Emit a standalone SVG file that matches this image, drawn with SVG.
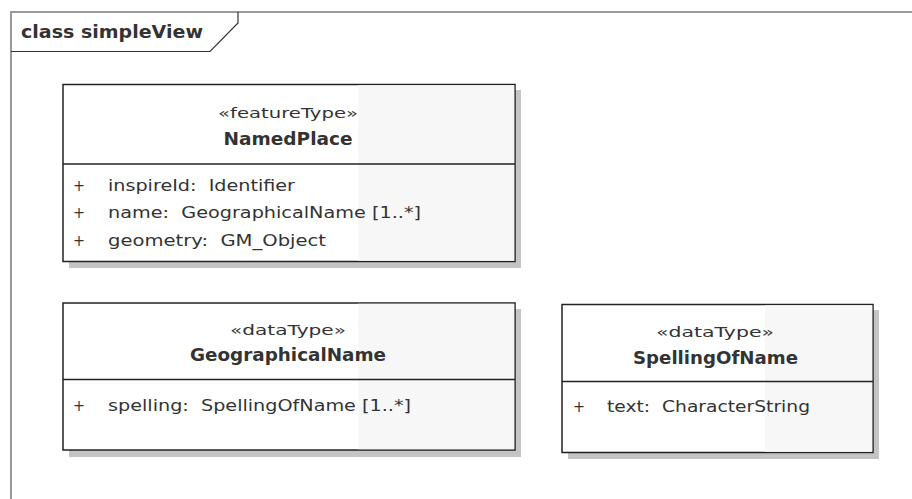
<svg xmlns="http://www.w3.org/2000/svg" width="912" height="499" viewBox="0 0 912 499">
<style>
.frame{fill:none;stroke:#999;stroke-width:2}
.tab{fill:none;stroke:#333;stroke-width:1.2}
.shadow{fill:#c4c4c4}
.box{fill:#fff;stroke:#222;stroke-width:1.5}
.shade{fill:#f7f7f7}
.div{stroke:#222;stroke-width:1.5}
text{white-space:pre}
.t{font-family:"DejaVu Sans","Liberation Sans",sans-serif;font-size:16.5px;fill:#333}
.st{text-anchor:middle;font-size:14.5px}
.nm{text-anchor:middle;font-weight:bold;font-size:17.5px}
.ttl{font-family:"DejaVu Sans","Liberation Sans",sans-serif;font-size:17.5px;font-weight:bold;fill:#333}
</style>
<rect width="912" height="499" fill="#fff"/>
<g id="frame">
<path class="frame" d="M11,499 V12 H912"/>
<path class="tab" d="M11,51.5 H210 L238,23 V12"/>
<text class="ttl" x="21" y="38" textLength="182" lengthAdjust="spacingAndGlyphs">class simpleView</text>
</g>
<g id="NamedPlace">
<rect class="shadow" x="69" y="90" width="452" height="178"/>
<rect class="box" x="63" y="84.5" width="452" height="177"/>
<rect class="shade" x="358" y="85.25" width="156.25" height="175.5"/>
<line class="div" x1="63" y1="164" x2="515" y2="164"/>
<text class="t st" x="288" y="118" textLength="140" lengthAdjust="spacingAndGlyphs">«featureType»</text>
<text class="t nm" x="288" y="145" textLength="129" lengthAdjust="spacingAndGlyphs">NamedPlace</text>
<text class="t" x="73" y="190.5" textLength="12" lengthAdjust="spacingAndGlyphs">+</text><text class="t" x="108" y="190.5" textLength="187" lengthAdjust="spacingAndGlyphs">inspireId:  Identifier</text>
<text class="t" x="73" y="218" textLength="12" lengthAdjust="spacingAndGlyphs">+</text><text class="t" x="108" y="218" textLength="313" lengthAdjust="spacingAndGlyphs">name:  GeographicalName [1..*]</text>
<text class="t" x="73" y="245.5" textLength="12" lengthAdjust="spacingAndGlyphs">+</text><text class="t" x="108" y="245.5" textLength="218" lengthAdjust="spacingAndGlyphs">geometry:  GM_Object</text>
</g>
<g id="GeographicalName">
<rect class="shadow" x="69" y="309" width="452" height="148"/>
<rect class="box" x="63" y="303" width="452" height="147"/>
<rect class="shade" x="358" y="303.75" width="156.25" height="145.5"/>
<line class="div" x1="63" y1="379.5" x2="515" y2="379.5"/>
<text class="t st" x="288" y="335" textLength="116" lengthAdjust="spacingAndGlyphs">«dataType»</text>
<text class="t nm" x="288" y="361" textLength="196" lengthAdjust="spacingAndGlyphs">GeographicalName</text>
<text class="t" x="73" y="411" textLength="12" lengthAdjust="spacingAndGlyphs">+</text><text class="t" x="108" y="411" textLength="303" lengthAdjust="spacingAndGlyphs">spelling:  SpellingOfName [1..*]</text>
</g>
<g id="SpellingOfName">
<rect class="shadow" x="568" y="310" width="311" height="149"/>
<rect class="box" x="562" y="304.5" width="311" height="148"/>
<rect class="shade" x="765" y="305.25" width="107.25" height="146.5"/>
<line class="div" x1="562" y1="381.5" x2="873" y2="381.5"/>
<text class="t st" x="715" y="337" textLength="118" lengthAdjust="spacingAndGlyphs">«dataType»</text>
<text class="t nm" x="715.5" y="363.5" textLength="165" lengthAdjust="spacingAndGlyphs">SpellingOfName</text>
<text class="t" x="573" y="412" textLength="12" lengthAdjust="spacingAndGlyphs">+</text><text class="t" x="607" y="412" textLength="203" lengthAdjust="spacingAndGlyphs">text:  CharacterString</text>
</g>
<g id="connectors"/>
</svg>
